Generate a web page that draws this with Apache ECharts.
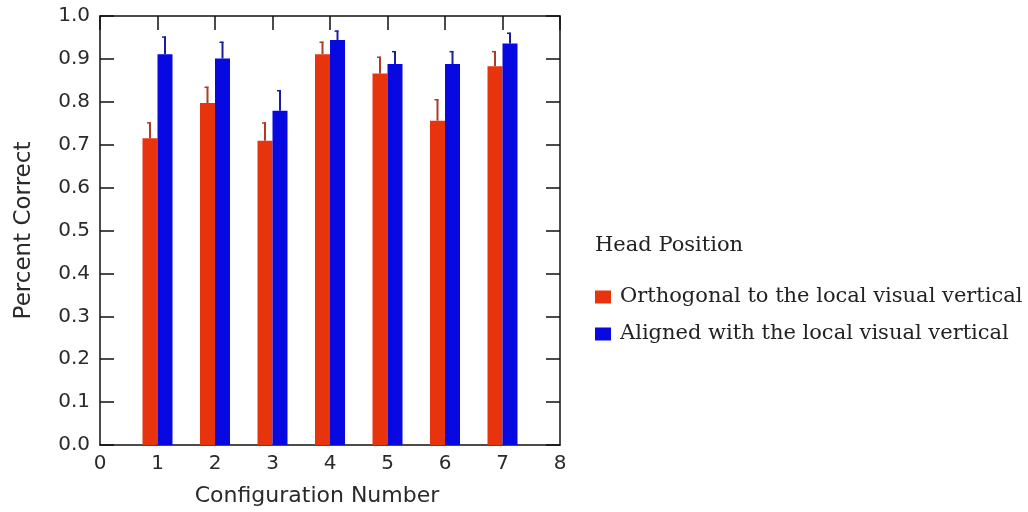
<!DOCTYPE html>
<html>
<head>
<meta charset="utf-8">
<script src="https://cdn.jsdelivr.net/npm/echarts@6/dist/echarts.min.js"></script>
<style>
  html, body { margin: 0; padding: 0; background: #ffffff; }
  #chart { width: 1028px; height: 512px; }
</style>
</head>
<body>
<div id="chart"></div>
<script>
// Configuration numbers along the x axis
const configurations = [1, 2, 3, 4, 5, 6, 7];

// Mean proportion correct per configuration, by head position (with upper error)
const orthogonalMean = [0.715, 0.797, 0.709, 0.911, 0.866, 0.756, 0.883];
const orthogonalErr  = [0.037, 0.038, 0.043, 0.029, 0.039, 0.050, 0.035];
const alignedMean    = [0.911, 0.901, 0.779, 0.944, 0.888, 0.888, 0.936];
const alignedErr     = [0.041, 0.039, 0.048, 0.022, 0.030, 0.030, 0.025];

// Axis tick labels
const xTickLabels = ['0', '1', '2', '3', '4', '5', '6', '7', '8'];
const yTickLabels = ['0.0', '0.1', '0.2', '0.3', '0.4', '0.5', '0.6', '0.7', '0.8', '0.9', '1.0'];

const seriesNames = ['Orthogonal to the local visual vertical', 'Aligned with the local visual vertical'];
const barColors = ['#e8340c', '#0808e0'];
const errColors = ['#b03a22', '#1c1ca0'];

const BAR_W = 15;
const SANS = 'DejaVu Sans, Verdana, sans-serif';
const SERIF = 'DejaVu Serif, serif';

function makeBarSeries(idx, means, errs) {
  const data = configurations.map((c, i) => [c, means[i], errs[i]]);
  return {
    name: seriesNames[idx],
    type: 'custom',
    xAxisIndex: 0,
    yAxisIndex: 0,
    itemStyle: { color: barColors[idx] },
    data: data,
    encode: { x: 0, y: 1 },
    renderItem: function (params, api) {
      const x = api.value(0);
      const y = api.value(1);
      const e = api.value(2);
      const base = api.coord([x, 0]);
      const top = api.coord([x, y]);
      const errTop = api.coord([x, y + e]);
      const left = idx === 0 ? base[0] - BAR_W : base[0];
      const cx = left + BAR_W / 2;
      return {
        type: 'group',
        children: [
          {
            type: 'line',
            shape: { x1: cx, y1: top[1], x2: cx, y2: errTop[1] },
            style: { stroke: errColors[idx], lineWidth: 2 }
          },
          {
            type: 'line',
            shape: { x1: cx - 3, y1: errTop[1] + 0.5, x2: cx + 1, y2: errTop[1] + 0.5 },
            style: { stroke: errColors[idx], lineWidth: 1.5 }
          },
          {
            type: 'rect',
            shape: { x: left, y: top[1], width: BAR_W, height: base[1] - top[1] },
            style: { fill: barColors[idx] }
          }
        ]
      };
    }
  };
}

const axisLine = { show: true, onZero: false, lineStyle: { color: '#111', width: 1.5 } };
const innerTick = { show: true, inside: true, length: 14, lineStyle: { color: '#111', width: 1.5 } };
const sansLabel = { color: '#2a2a2a', fontFamily: SANS, fontSize: 20 };

const chart = echarts.init(document.getElementById('chart'), null, { renderer: 'canvas' });
chart.setOption({
  animation: false,
  backgroundColor: '#ffffff',
  grid: { left: 100, right: 468, top: 16, bottom: 67 },
  title: {
    text: 'Head Position',
    left: 595,
    top: 234,
    padding: 0,
    textStyle: { fontFamily: SERIF, fontWeight: 'normal', fontSize: 21, lineHeight: 24, color: '#222' }
  },
  legend: {
    orient: 'vertical',
    left: 595,
    top: 285,
    padding: 0,
    itemWidth: 16,
    itemHeight: 13,
    itemGap: 13,
    icon: 'rect',
    data: seriesNames,
    textStyle: { fontFamily: SERIF, fontSize: 21, lineHeight: 24, color: '#222', padding: [0, 0, 0, 4] }
  },
  xAxis: [
    {
      type: 'value', position: 'bottom', min: 0, max: 8, interval: 1,
      axisLine: axisLine, axisTick: { show: false }, splitLine: { show: false },
      axisLabel: Object.assign({ margin: 9, formatter: v => xTickLabels[v] }, sansLabel),
      name: 'Configuration Number', nameLocation: 'middle', nameGap: 40,
      nameTextStyle: { color: '#2a2a2a', fontFamily: SANS, fontSize: 22, padding: [0, 26, 0, 0] }
    },
    {
      type: 'value', position: 'top', min: 0, max: 8, interval: 1,
      axisLine: axisLine, axisTick: innerTick,
      axisLabel: { show: false }, splitLine: { show: false }
    }
  ],
  yAxis: [
    {
      type: 'value', position: 'left', min: 0, max: 1, interval: 0.1,
      axisLine: axisLine, axisTick: innerTick, splitLine: { show: false },
      axisLabel: Object.assign({ margin: 10, formatter: v => yTickLabels[Math.round(v * 10)] }, sansLabel),
      name: 'Percent Correct', nameLocation: 'middle', nameGap: 64, nameRotate: 90,
      nameTextStyle: { color: '#2a2a2a', fontFamily: SANS, fontSize: 23 }
    },
    {
      type: 'value', position: 'right', min: 0, max: 1, interval: 0.1,
      axisLine: axisLine, axisTick: innerTick,
      axisLabel: { show: false }, splitLine: { show: false }
    }
  ],
  series: [
    makeBarSeries(0, orthogonalMean, orthogonalErr),
    makeBarSeries(1, alignedMean, alignedErr)
  ]
});
</script>
</body>
</html>
